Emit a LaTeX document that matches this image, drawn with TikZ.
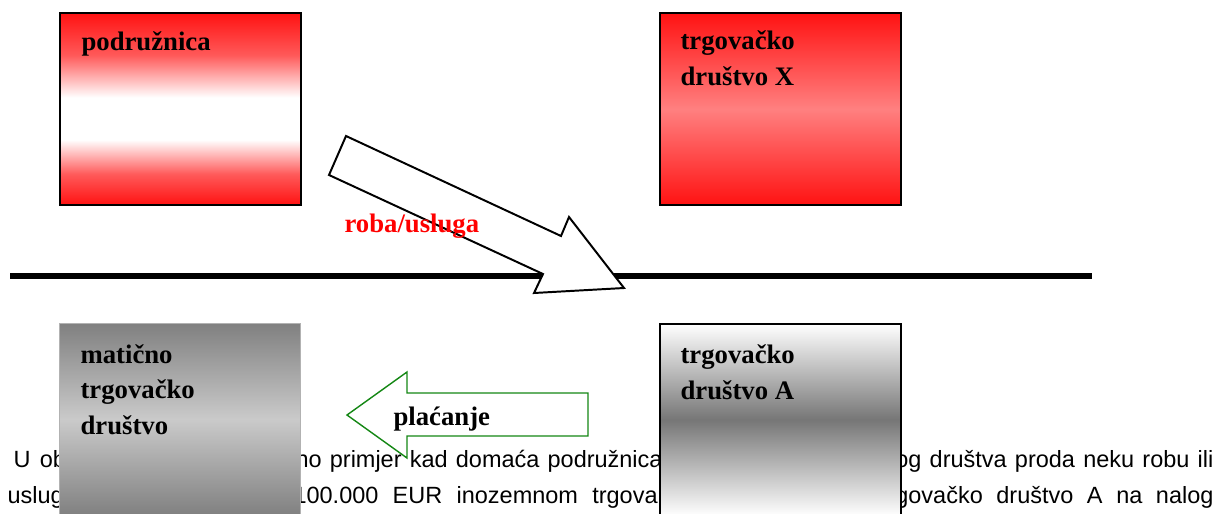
\documentclass[tikz,border=0pt]{standalone}
\usepackage{fontspec}
\setmainfont{Liberation Serif}
\newfontfamily\bodyfont{Liberation Sans}
\usetikzlibrary{positioning}

\definecolor{jakocrvena}{RGB}{255,18,18}
\definecolor{blijedocrvena}{RGB}{255,128,128}
\definecolor{tamnosiva}{RGB}{128,128,128}
\definecolor{svijetlosiva}{RGB}{202,202,202}
\definecolor{srednjesiva}{RGB}{118,118,118}
\definecolor{zelena}{RGB}{20,135,20}

\pgfdeclareverticalshading{crvenobijela}{100bp}{color(0bp)=(jakocrvena); color(25bp)=(jakocrvena); color(33bp)=(jakocrvena!70!white); color(42bp)=(white); color(53bp)=(white); color(64bp)=(jakocrvena!70!white); color(75bp)=(jakocrvena); color(100bp)=(jakocrvena)}

% justified line pieces
\newcommand\redak[2]{\makebox[#1][s]{#2}}

\tikzset{
  kutija/.style={anchor=north west, minimum width=6.025cm, minimum height=4.8cm, inner sep=0pt},
  naziv/.style={anchor=base west, inner sep=0pt, align=left,
    font=\bfseries\fontsize{19}{24.9}\selectfont},
  tekst/.style={inner sep=0pt, font=\bodyfont\fontsize{16.7}{20}\selectfont}
}

\begin{document}
\begin{tikzpicture}[x=0.025cm, y=-0.025cm, thick]
			\useasboundingbox (0,0) rectangle (1221,513);
			\clip (0,0) rectangle (1221,513);

			\node[tekst, anchor=base west] (t1a) at (13,467) {U\hspace{2pt} ob};
			\node[tekst, anchor=base west] (t1b) at (295,467) {\redak{261pt}{no primjer kad domaća podružnica}};
			\node[tekst, anchor=base east] (t1c) at (1214,467) {\redak{226.2pt}{og društva proda neku robu ili}};
			\node[tekst, anchor=base west] (t2a) at (7,503) {uslug};
			\node[tekst, anchor=base west] (t2b) at (293,503) {\redak{258.9pt}{100.000 EUR inozemnom trgova}};
			\node[tekst, anchor=base east] (t2c) at (1214,503) {\redak{226.2pt}{govačko društvo A na nalog}};

			\node[kutija, draw=black, line width=1.4pt, shading=crvenobijela] (podr) at (59,12) {};
			\node[kutija, draw=black, line width=1.4pt, top color=jakocrvena, bottom color=jakocrvena, middle color=blijedocrvena] (drX) at (659,12) {};
			\node[kutija, draw=gray!60, thin, top color=tamnosiva, bottom color=tamnosiva, middle color=svijetlosiva] (mat) at (59,323) {};
			\node[kutija, draw=black, line width=1.1pt, top color=white, bottom color=white, middle color=srednjesiva] (drA) at (659,323) {};

			% base of a multi-line label is its last line
			\node[naziv] (podrt) at ([shift={(22,38)}]podr.north west) {podružnica};
			\node[naziv] (drXt) at ([shift={(21,73)}]drX.north west) {trgovačko\\društvo X};
			\node[naziv] (matt) at ([shift={(21,111)}]mat.north west) {matično\\trgovačko\\društvo};
			\node[naziv] (drAt) at ([shift={(21,76)}]drA.north west) {trgovačko\\društvo A};

			\draw[line width=4.3pt] (10,276) -- (1092,276);
			\draw[fill=white, line width=1.4pt, line join=miter] (346,136) -- (561,236) -- (569,217) -- (624,288) -- (534,293) -- (543,274) -- (329,175) -- cycle;
			\node[naziv, red] (roba) at (344,232) {roba/usluga};

			\draw[zelena, fill=white, line width=1pt] (347,415) -- (407,372) -- (407,393) -- (588,393) -- (588,436) -- (407,436) -- (407,458) -- cycle;
			\node[naziv] (plac) at (393,425) {plaćanje};
			\end{tikzpicture}
\end{document}
